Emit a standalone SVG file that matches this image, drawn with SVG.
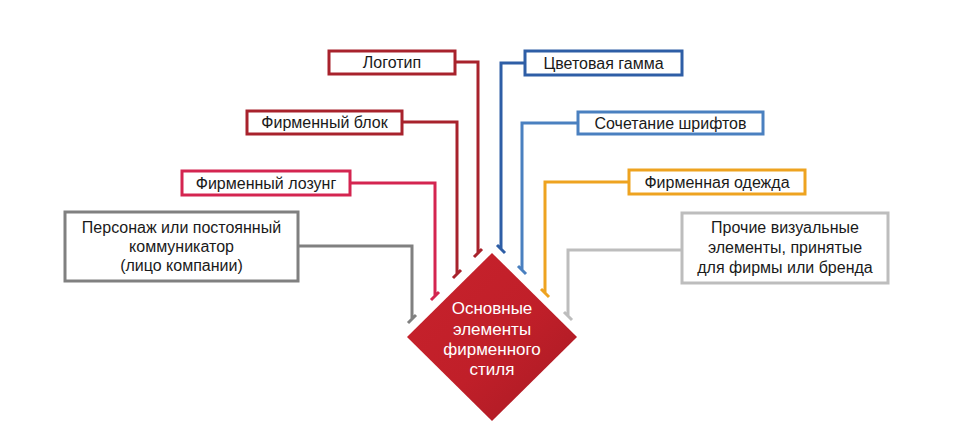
<svg xmlns="http://www.w3.org/2000/svg" width="954" height="434" viewBox="0 0 954 434">
<defs>
<linearGradient id="dg" x1="0" y1="0" x2="1" y2="1">
<stop offset="0" stop-color="#C8222C"/>
<stop offset="0.55" stop-color="#C01F29"/>
<stop offset="1" stop-color="#A81A24"/>
</linearGradient>
</defs>
<style>
.box{fill:#fff;stroke-width:3}
.t{font-family:"Liberation Sans",Arial,sans-serif;font-size:16px;fill:#1a1a1a;text-anchor:middle}
.c{fill:none;stroke-width:3}
.dk{stroke:#A8222C}
.pk{stroke:#D42550}
.gr{stroke:#808080}
.bl{stroke:#2E5EA6}
.lb{stroke:#4A80C0}
.or{stroke:#EEA320}
.lg{stroke:#BDBDBD}
.w{font-family:"Liberation Sans",Arial,sans-serif;font-size:17px;fill:#fff;text-anchor:middle}
</style>
<rect width="954" height="434" fill="#fff"/>
<g id="connectors">
<path class="c dk" d="M455 62H478V253M474 257l8-8"/>
<path class="c dk" d="M402 122H457V274M453 278l8-8"/>
<path class="c pk" d="M350 183H435V296M431 300l8-8"/>
<path class="c gr" d="M298 246H412V319M408 323l8-8"/>
<path class="c bl" d="M525 63H501V249M497 245l8 8"/>
<path class="c lb" d="M578 123H522V270M518 266l8 8"/>
<path class="c or" d="M629 182H545V293M541 289l8 8"/>
<path class="c lg" d="M682 250H568V316M564 312l8 8"/>
</g>
<g id="center">
<polygon points="492,253 577,337 492,421 407,337" fill="url(#dg)"/>
<text class="w" x="492" y="314">Основные</text>
<text class="w" x="492" y="335">элементы</text>
<text class="w" x="492" y="355">фирменного</text>
<text class="w" x="492" y="375">стиля</text>
</g>
<g id="logo">
<rect class="box dk" x="329" y="51" width="126" height="23"/>
<text class="t" x="392" y="68">Логотип</text>
</g>
<g id="block">
<rect class="box dk" x="247" y="111" width="155" height="23"/>
<text class="t" x="324.5" y="128">Фирменный блок</text>
</g>
<g id="slogan">
<rect class="box pk" x="182" y="171" width="168" height="24"/>
<text class="t" x="266" y="189">Фирменный лозунг</text>
</g>
<g id="persona">
<rect class="box gr" x="65" y="212" width="233" height="69"/>
<text class="t" x="181.5" y="233">Персонаж или постоянный</text>
<text class="t" x="181.5" y="252">коммуникатор</text>
<text class="t" x="181.5" y="271">(лицо компании)</text>
</g>
<g id="colors">
<rect class="box bl" x="525" y="51" width="157" height="24"/>
<text class="t" x="603.5" y="69">Цветовая гамма</text>
</g>
<g id="fonts">
<rect class="box lb" x="578" y="112" width="185" height="22"/>
<text class="t" x="670.5" y="129">Сочетание шрифтов</text>
</g>
<g id="clothes">
<rect class="box or" x="629" y="170" width="176" height="24"/>
<text class="t" x="717" y="188">Фирменная одежда</text>
</g>
<g id="other">
<rect class="box lg" x="682" y="213" width="206" height="70"/>
<text class="t" x="785" y="233">Прочие визуальные</text>
<text class="t" x="785" y="253">элементы, принятые</text>
<text class="t" x="785" y="273">для фирмы или бренда</text>
</g>
</svg>
